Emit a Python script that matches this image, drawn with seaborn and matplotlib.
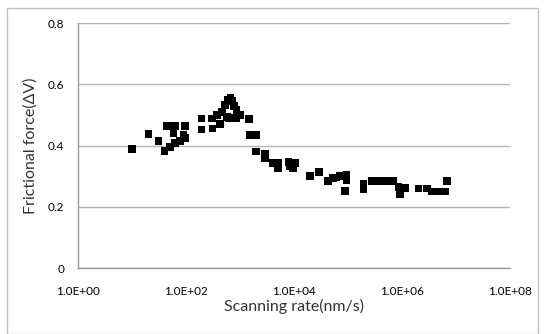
import matplotlib
matplotlib.use("Agg")
import matplotlib.pyplot as plt
import matplotlib.ticker as mticker
from matplotlib.patches import Rectangle
import seaborn as sns
import pandas as pd

# scanning rate (nm/s) and frictional force (delta V)
rate = [10, 20, 31, 40, 44, 62, 95, 58, 89, 50, 62, 77, 95,
        194, 194, 298, 310, 370, 420, 457, 525, 580, 660, 720, 760, 860,
        565, 620, 800, 860, 1000,
        1450, 1520, 1950, 1960, 2880, 2880, 4090, 5000, 5000, 7780, 8300, 9600, 10300,
        19600, 29000, 42000, 52700, 61000, 70000, 93000, 93000, 87000,
        190000, 190000, 271000, 360000, 478000, 680000, 850000, 910000, 1.12e6,
        2.0e6, 2.9e6, 3.5e6, 4.3e6, 5.0e6, 6.2e6, 6.8e6]
force = [0.389, 0.438, 0.414, 0.382, 0.463, 0.463, 0.463, 0.441, 0.434, 0.396, 0.408, 0.414, 0.424,
         0.488, 0.452, 0.488, 0.456, 0.500, 0.470, 0.510, 0.532, 0.549, 0.556, 0.545, 0.530, 0.516,
         0.494, 0.490, 0.490, 0.489, 0.500,
         0.487, 0.434, 0.434, 0.380, 0.374, 0.358, 0.342, 0.342, 0.326, 0.347, 0.331, 0.326, 0.342,
         0.301, 0.313, 0.284, 0.293, 0.295, 0.300, 0.304, 0.287, 0.252,
         0.275, 0.256, 0.284, 0.284, 0.284, 0.284, 0.265, 0.242, 0.262,
         0.260, 0.260, 0.250, 0.250, 0.250, 0.250, 0.284]

x_ticks = [1e0, 1e2, 1e4, 1e6, 1e8]
y_ticks = [0, 0.2, 0.4, 0.6, 0.8]

sns.set_theme(style="white")
plt.rcParams['font.family'] = ['Lato', 'DejaVu Sans']

df = pd.DataFrame({'rate': rate, 'force': force})

fig = plt.figure(figsize=(5.46, 3.34), dpi=100)
ax = fig.add_axes([0.1429, 0.1976, 0.7919, 0.7335])

sns.scatterplot(data=df, x='rate', y='force', marker='s', color='black',
                s=30, edgecolor='none', linewidth=0, ax=ax)

ax.set_xscale('log')
ax.set_xlim(1e0, 1e8)
ax.set_ylim(0, 0.8)
ax.set_xticks(x_ticks)
ax.set_yticks(y_ticks)
ax.xaxis.set_minor_locator(mticker.NullLocator())
ax.xaxis.set_major_formatter(mticker.FuncFormatter(
    lambda v, p: '{:.1E}'.format(v)))
ax.yaxis.set_major_formatter(mticker.FuncFormatter(
    lambda v, p: '0' if v == 0 else '{:g}'.format(v)))

ax.grid(axis='y', color='#b3b3b3', linewidth=1)
ax.set_axisbelow(True)
for side in ['top', 'right']:
    ax.spines[side].set_visible(False)
for side in ['left', 'bottom']:
    ax.spines[side].set_color('#999999')
    ax.spines[side].set_linewidth(1)

ax.tick_params(axis='both', which='major', direction='out', length=4,
               width=1, color='#999999', labelsize=8.5, labelcolor='black')
ax.tick_params(axis='x', pad=9)
ax.tick_params(axis='y', pad=6)

ax.set_xlabel('Scanning rate(nm/s)', fontsize=11.5, color='#333333', labelpad=1)
ax.set_ylabel('Frictional force(ΔV)', fontsize=11.5, color='#333333', labelpad=7)

fig.patches.append(Rectangle((7 / 546, 0.5 / 334), 531 / 546, 326 / 334,
                             transform=fig.transFigure, fill=False,
                             edgecolor='#bfbfbf', linewidth=1))

fig.savefig('out.png', dpi=100)
